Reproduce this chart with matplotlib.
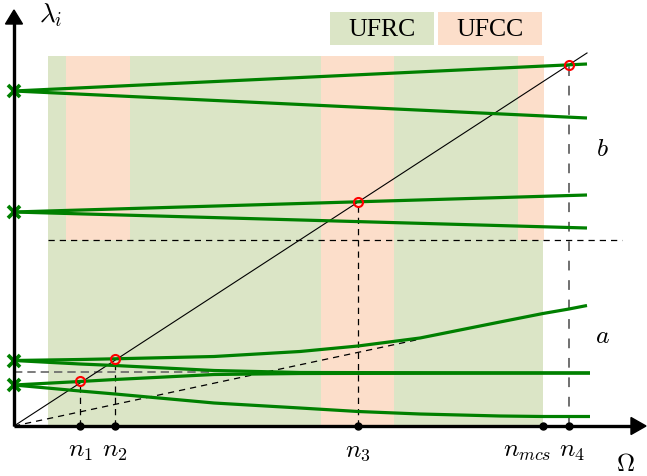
import numpy as np
import matplotlib
matplotlib.use("Agg")
import matplotlib.pyplot as plt

plt.rcParams['mathtext.fontset'] = 'cm'
plt.rcParams['font.family'] = ['Liberation Serif', 'DejaVu Serif']

# speeds (Omega) where the labelled points sit
n_labels = [r'$n_1$', r'$n_2$', r'$n_3$', r'$n_{mcs}$', r'$n_4$']
n_values = [66, 101, 344, 529, 555]
n_label_x = [66, 101, 344, 513, 558]

# crossing points of the excitation line with the eigenvalue curves
cross_omega = [66, 101, 344, 555]
cross_lambda = [45, 67.5, 224, 361.5]

# slope of the excitation line lambda = k * Omega
k_exc = 0.651
omega_max = 573

# eigenvalue curves, branch b (two pairs splitting from the same start value)
b_omega = [0, 573]
b1_up = [335, 362]
b1_down = [335, 308]
b2_up = [214, 231]
b2_down = [214, 198]

# eigenvalue curves, branch a
a1_omega = [0, 66, 101, 200, 286, 344, 406, 486, 529, 555, 573]
a1 = [65.5, 66.5, 67.2, 69.5, 74.5, 80, 88, 104, 112.5, 117, 120.5]
a2_omega = [0, 66, 101, 200, 286, 576]
a2 = [65.5, 62, 60.5, 55.5, 53.5, 53]
a3_omega = [0, 66, 101, 200, 286, 576]
a3 = [41, 44.5, 46.5, 51.5, 52.5, 53]
a4_omega = [0, 66, 101, 200, 286, 344, 406, 486, 529, 576]
a4 = [41, 35, 32, 23, 18, 14.5, 12, 10, 9.5, 9.5]

start_values = [335, 214, 65.5, 41]

# stability regions: (Omega start, Omega end, lambda low, lambda high)
ufrc_regions = [(34, 529, 0, 370)]
ufcc_regions = [(52, 116, 186, 370), (307, 380, 0, 370), (504, 530, 186, 370)]
b_limit = 186

c_ufrc = '#dbe5c6'
c_ufcc = '#fcdeca'
c_curve = '#008000'

fig = plt.figure(figsize=(6.47, 4.77), dpi=100)
ax = fig.add_axes([0, 0, 1, 1])
ax.set_xlim(-14, 633)
ax.set_ylim(-50, 427)
ax.axis('off')

for x0, x1, y0, y1 in ufrc_regions:
    ax.fill_between([x0, x1], y0, y1, color=c_ufrc, lw=0, zorder=0)
for x0, x1, y0, y1 in ufcc_regions:
    ax.fill_between([x0, x1], y0, y1, color=c_ufcc, lw=0, zorder=0)

# legend boxes
for x0, txt, c in [(316, 'UFRC', c_ufrc), (424, 'UFCC', c_ufcc)]:
    ax.fill_between([x0, x0 + 104], 381, 414, color=c, lw=0, zorder=0)
    ax.text(x0 + 52, 397, txt, fontsize=18.5, ha='center', va='center')

# guide lines
ax.plot([34, 608], [b_limit, b_limit], color='black', lw=0.9, ls=(0, (5, 4)), zorder=1)
ax.plot([0, 200], [54, 54], color='#666666', lw=1.2, ls=(0, (5, 3)), zorder=1)
ax.plot([0, 406], [0, 406 * 0.214], color='black', lw=0.9, ls=(0, (5, 4)), zorder=1)
for xo, yo in zip(cross_omega[:3], cross_lambda[:3]):
    ax.plot([xo, xo], [0, yo], color='black', lw=0.9, ls=(0, (5, 4)), zorder=1)
ax.plot([cross_omega[3]] * 2, [0, cross_lambda[3]], color='#707070', lw=1.4,
        ls=(0, (5, 5)), zorder=1)

# excitation line
om = np.array([0, omega_max])
ax.plot(om, k_exc * om, color='black', lw=0.8, zorder=2)

# eigenvalue curves
for xs, ys in [(b_omega, b1_up), (b_omega, b1_down), (b_omega, b2_up), (b_omega, b2_down),
               (a1_omega, a1), (a2_omega, a2), (a3_omega, a3), (a4_omega, a4)]:
    ax.plot(xs, ys, color=c_curve, lw=2.3, solid_capstyle='butt',
            solid_joinstyle='round', zorder=3)

ax.plot([0] * len(start_values), start_values, 'x', color=c_curve, ms=8, mew=2.7,
        zorder=4, clip_on=False)

ax.plot(cross_omega, cross_lambda, 'o', mfc='none', mec='red', ms=6.5, mew=1.5, zorder=5)

# axes with arrows
ax.plot([0, 0], [0, 405], color='black', lw=2.4, zorder=6, solid_capstyle='butt')
ax.fill([-8.5, 8.5, 0], [402, 402, 416], color='black', zorder=6)
ax.plot([0, 618], [0, 0], color='black', lw=2.4, zorder=6, solid_capstyle='butt')
ax.fill([617, 617, 632], [-8.5, 8.5, 0], color='black', zorder=6)

ax.plot(n_values, [0] * len(n_values), 'o', color='black', ms=5, zorder=7)
for lab, xl in zip(n_labels, n_label_x):
    ax.text(xl, -25, lab, fontsize=18.5, ha='center', va='center')

ax.text(611, -38, r'$\Omega$', fontsize=18, ha='center', va='center')
ax.text(37, 412, r'$\lambda_i$', fontsize=19.5, ha='center', va='center')
ax.text(588, 90, r'$a$', fontsize=18.5, ha='center', va='center')
ax.text(588, 277, r'$b$', fontsize=18.5, ha='center', va='center')

fig.savefig('out.png', dpi=100)
